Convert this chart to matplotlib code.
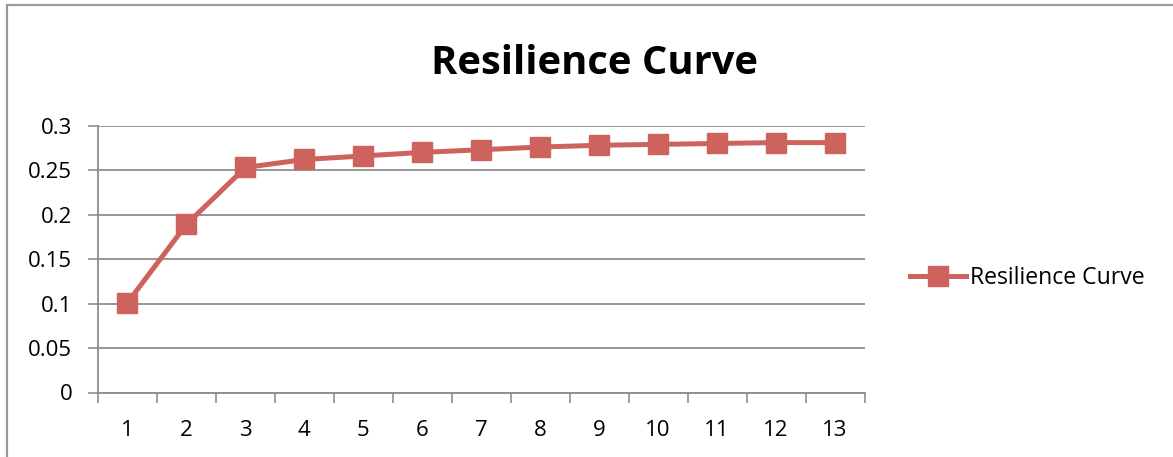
import numpy as np
import matplotlib.pyplot as plt
from matplotlib.patches import Rectangle

# data
periods = list(range(1, 14))
resilience = [0.101, 0.189, 0.253, 0.262, 0.266, 0.270, 0.273, 0.276, 0.278, 0.279, 0.280, 0.281, 0.281]
y_ticks = [0, 0.05, 0.1, 0.15, 0.2, 0.25, 0.3]
y_labels = ['0', '0.05', '0.1', '0.15', '0.2', '0.25', '0.3']
series_name = 'Resilience Curve'

plt.rcParams['font.family'] = ['Open Sans', 'DejaVu Sans']
line_col = '#CD635C'
grid_col = '#8E8E8E'

fig = plt.figure(figsize=(11.73, 4.57), dpi=100)
ax = fig.add_axes([98 / 1173, 1 - 392.5 / 457, (864.5 - 98) / 1173, (392.5 - 125.7) / 457])

ax.plot(periods, resilience, color=line_col, lw=3.6, marker='s', ms=14.5,
        markeredgecolor=line_col, label=series_name, clip_on=False, zorder=3)

ax.set_xlim(0.5, 13.5)
ax.set_ylim(0, 0.3)
ax.set_yticks(y_ticks)
ax.set_yticklabels(y_labels)
ax.set_xticks(np.arange(0.5, 14, 1))
ax.set_xticklabels([])
ax.set_xticks(periods, minor=True)
ax.set_xticklabels([str(p) for p in periods], minor=True)
ax.tick_params(axis='x', which='major', length=7, width=1.2, color=grid_col, direction='out')
ax.tick_params(axis='x', which='minor', length=0, pad=20, labelsize=16)
ax.tick_params(axis='y', length=7, width=1.2, color=grid_col, labelsize=16, pad=11.5)
ax.yaxis.grid(True, color=grid_col, lw=1.3)
ax.set_axisbelow(True)
for s in ['top', 'right']:
    ax.spines[s].set_visible(False)
for s in ['left', 'bottom']:
    ax.spines[s].set_color(grid_col)
    ax.spines[s].set_linewidth(1.3)

fig.text(594.5 / 1173, 1 - 74.5 / 457, 'Resilience Curve', ha='center', va='baseline',
         fontsize=28.7, fontweight='bold')

fig.legend(loc='center left', bbox_to_anchor=(910 / 1173, 1 - 278 / 457), frameon=False,
           fontsize=16.6, handlelength=2.45, handletextpad=0.15, borderpad=0, borderaxespad=0)

# outer chart frame (only top and left edges fall inside the image)
fig.patches.append(Rectangle((7 / 1173, -0.2), 1.2, 1.2 - 5 / 457, transform=fig.transFigure,
                             fill=False, edgecolor='#9A9A9A', lw=1.6, clip_on=False))

fig.savefig('out.png', dpi=100)
